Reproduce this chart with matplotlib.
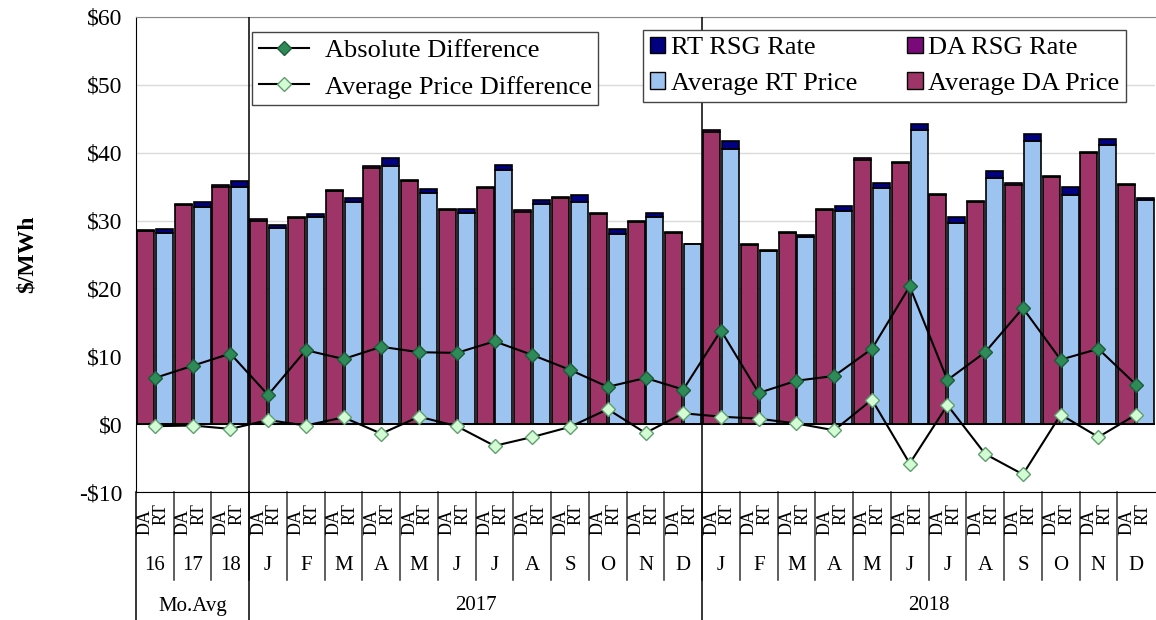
import matplotlib
matplotlib.use("Agg")
import matplotlib.pyplot as plt
import matplotlib.transforms as mtransforms
from matplotlib.lines import Line2D
from matplotlib.patches import Patch
import numpy as np

plt.rcParams['font.family'] = ['Liberation Serif', 'DejaVu Serif']

# data
groups = ['16', '17', '18', 'J', 'F', 'M', 'A', 'M', 'J', 'J', 'A', 'S', 'O', 'N', 'D',
          'J', 'F', 'M', 'A', 'M', 'J', 'J', 'A', 'S', 'O', 'N', 'D']
periods = ['Mo.Avg', '2017', '2018']
period_sizes = [3, 12, 12]

da_price = [28.4, 32.3, 35.0, 30.0, 30.4, 34.3, 37.8, 35.8, 31.5, 34.8, 31.3, 33.3, 30.9, 29.8,
            28.1, 43.1, 26.4, 28.1, 31.5, 39.0, 38.5, 33.7, 32.7, 35.3, 36.4, 39.9, 35.2]
da_rsg = [0.2] * 27
rt_price = [28.2, 32.0, 34.9, 28.9, 30.5, 32.8, 38.0, 34.1, 31.1, 37.5, 32.5, 32.7, 28.0, 30.5,
            26.5, 40.6, 25.5, 27.6, 31.4, 34.8, 43.4, 29.6, 36.3, 41.8, 33.8, 41.1, 33.1]
rt_rsg = [0.6, 0.7, 0.9, 0.5, 0.5, 0.5, 1.2, 0.5, 0.6, 0.7, 0.6, 1.0, 0.8, 0.6,
          0.1, 1.2, 0.2, 0.3, 0.8, 0.7, 0.9, 0.9, 1.0, 1.0, 1.2, 0.9, 0.2]
abs_diff = [6.8, 8.6, 10.4, 4.3, 10.9, 9.6, 11.4, 10.6, 10.5, 12.2, 10.2, 8.0, 5.5, 6.8,
            5.1, 13.8, 4.6, 6.4, 7.1, 11.1, 20.3, 6.5, 10.6, 17.1, 9.5, 11.1, 5.8]
avg_diff = [-0.3, -0.2, -0.7, 0.6, -0.2, 1.0, -1.4, 1.1, -0.3, -3.2, -1.9, -0.4, 2.2, -1.3,
            1.6, 1.1, 0.8, 0.1, -0.9, 3.6, -5.8, 2.8, -4.4, -7.4, 1.4, -1.9, 1.4]

c_da = '#9e3468'
c_da_rsg = '#7a0a7a'
c_rt = '#9dc3f0'
c_rt_rsg = '#000080'

W, H = 1156, 620
fig = plt.figure(figsize=(W / 100, H / 100), dpi=100)
ax = fig.add_axes([136 / W, 1 - 492 / H, (1155 - 136) / W, (492 - 17) / H])

x = np.arange(len(groups))
bw = 0.45
ax.bar(x - 0.25, da_price, bw, color=c_da, edgecolor='black', linewidth=1.2, zorder=2)
ax.bar(x - 0.25, da_rsg, bw, bottom=da_price, color=c_da_rsg, edgecolor='black', linewidth=1.2, zorder=2)
ax.bar(x + 0.25, rt_price, bw, color=c_rt, edgecolor='black', linewidth=1.2, zorder=2)
ax.bar(x + 0.25, rt_rsg, bw, bottom=rt_price, color=c_rt_rsg, edgecolor='black', linewidth=1.2, zorder=2)

ax.axhline(0, color='black', lw=1.3, zorder=3)
ax.plot(x, abs_diff, color='black', lw=1.5, marker='D', ms=7,
        mfc='#2e8b57', mec='#1d5c3a', zorder=4)
ax.plot(x, avg_diff, color='black', lw=1.5, marker='D', ms=7,
        mfc='#d4fcd4', mec='#5f9f6f', zorder=4)

ax.set_xlim(-0.5, len(groups) - 0.5)
ax.set_ylim(-10, 60)
ax.set_yticks(range(-10, 61, 10))
ax.set_yticklabels([('-\\$%d' % -v) if v < 0 else ('\\$%d' % v) for v in range(-10, 61, 10)],
                   fontsize=17)
ax.tick_params(axis='y', length=0, pad=10)
ax.set_xticks([])
ax.yaxis.grid(True, color='#dadada', lw=1, zorder=0)
ax.set_axisbelow(True)
ax.spines['top'].set_color('#888888')
ax.spines['left'].set_color('black')
ax.spines['bottom'].set_color('black')
ax.spines['right'].set_visible(False)
ax.set_ylabel('\\$/MWh', fontsize=17, fontweight='bold')
ax.yaxis.set_label_coords((38 - 136) / 1019, 0.5)

# period separators inside the plot
bounds = np.cumsum([0] + period_sizes) - 0.5
for b in bounds[1:-1]:
    ax.axvline(b, color='black', lw=1.1, zorder=3)

# category axis under the plot
tr = mtransforms.blended_transform_factory(ax.transData, fig.transFigure)
fy = lambda py: 1 - py / H
for i in range(len(groups)):
    ax.text(i - 0.25, fy(522), 'DA', rotation=90, ha='center', va='center',
            fontsize=13, transform=tr, clip_on=False)
    ax.text(i + 0.17, fy(514), 'RT', rotation=90, ha='center', va='center',
            fontsize=13, transform=tr, clip_on=False)
    ax.text(i, fy(566), groups[i], ha='center', va='center', fontsize=15,
            transform=tr, clip_on=False)
    if i > 0:
        ax.add_line(Line2D([i - 0.5, i - 0.5], [fy(492), fy(580)], color='#333333',
                           lw=1.1, transform=tr, clip_on=False))
for b in bounds[:-1]:
    ax.add_line(Line2D([b, b], [fy(492), fy(620)], color='black', lw=1.1,
                       transform=tr, clip_on=False))
for k, name in enumerate(periods):
    ax.text((bounds[k] + bounds[k + 1]) / 2, fy(606), name, ha='center', va='center',
            fontsize=15, transform=tr, clip_on=False)

# legends
line_handles = [
    Line2D([], [], color='black', lw=1.5, marker='D', ms=7, mfc='#2e8b57', mec='#1d5c3a'),
    Line2D([], [], color='black', lw=1.5, marker='D', ms=7, mfc='#d4fcd4', mec='#5f9f6f'),
]
leg1 = ax.legend(line_handles, ['Absolute Difference', 'Average Price Difference'],
                 loc='upper left', bbox_to_anchor=((252 - 136) / 1019, (492 - 32) / 475),
                 borderaxespad=0, fontsize=19, fancybox=False, framealpha=1,
                 edgecolor='#444444', handlelength=1.9, handletextpad=0.6,
                 labelspacing=0.5, borderpad=0.25)
leg1.get_frame().set_linewidth(1.0)
ax.add_artist(leg1)

bar_handles = [
    Patch(facecolor=c_rt_rsg, edgecolor='black'),
    Patch(facecolor=c_rt, edgecolor='black'),
    Patch(facecolor=c_da_rsg, edgecolor='black'),
    Patch(facecolor=c_da, edgecolor='black'),
]
leg2 = ax.legend(bar_handles, ['RT RSG Rate', 'Average RT Price', 'DA RSG Rate', 'Average DA Price'],
                 ncol=2, loc='upper left', bbox_to_anchor=((643 - 136) / 1019, (492 - 30) / 475),
                 borderaxespad=0, fontsize=19, fancybox=False, framealpha=1,
                 edgecolor='#444444', handlelength=0.6, handleheight=0.6,
                 handletextpad=0.2, columnspacing=1.9, labelspacing=0.5, borderpad=0.25)
leg2.get_frame().set_linewidth(1.0)

fig.savefig('out.png', dpi=100)
